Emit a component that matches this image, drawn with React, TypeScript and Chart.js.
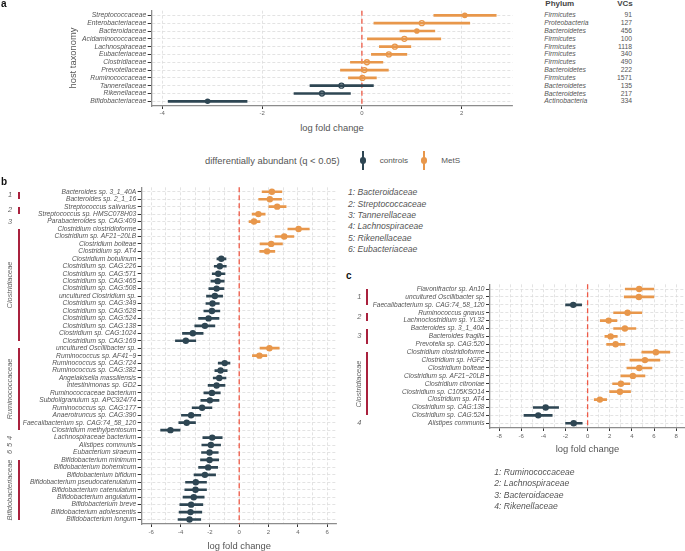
import React, { useEffect, useRef } from "react";
import { Chart, registerables } from "chart.js";

Chart.register(...registerables);

const FONT = "'Liberation Sans', Arial, Helvetica, sans-serif";
const ORANGE = "#e8974b";
const DARK = "#2e4653";
const ZERO_RED = "#ef5a47";
const BRACKET = "#a9213d";
const GRID = "#dcdcdc";
const AXIS = "#8c8c8c";
const TICK = "#333333";
const LABEL = "#555555";

// ---------- Panel a ----------
const aFamilies = ["Streptococcaceae", "Enterobacteriaceae", "Bacteroidaceae", "Acidaminococcaceae", "Lachnospiraceae", "Eubacteriaceae", "Clostridiaceae", "Prevotellaceae", "Ruminococcaceae", "Tannerellaceae", "Rikenellaceae", "Bifidobacteriaceae"];
const aLogFC = [2.06, 1.2, 1.1, 0.85, 0.66, 0.54, 0.1, 0.05, 0.01, -0.41, -0.8, -3.09];
const aLow = [1.44, 0.24, 0.76, 0.11, 0.35, 0.19, -0.23, -0.43, -0.27, -1.04, -1.36, -3.88];
const aHigh = [2.69, 2.16, 1.46, 1.58, 0.98, 0.9, 0.42, 0.53, 0.29, 0.23, -0.23, -2.3];
const aSignificant = [true, false, true, false, false, false, false, false, false, false, false, true];
const aPhylum = ["Firmicutes", "Proteobacteria", "Bacteroidetes", "Firmicutes", "Firmicutes", "Firmicutes", "Firmicutes", "Bacteroidetes", "Firmicutes", "Bacteroidetes", "Bacteroidetes", "Actinobacteria"];
const aVCs = [91, 127, 456, 100, 1118, 340, 490, 222, 1571, 135, 217, 334];
const aTicks = [-4, -2, 0, 2];

// ---------- Panel b ----------
const bTaxa = [
  "Bacteroides sp. 3_1_40A", "Bacteroides sp. 2_1_16", "Streptococcus salivarius", "Streptococcus sp. HMSC078H03", "Parabacteroides sp. CAG:409",
  "Clostridium clostridioforme", "Clostridium sp. AF21−20LB", "Clostridium bolteae", "Clostridium sp. AT4", "Clostridium botulinum",
  "Clostridium sp. CAG:226", "Clostridium sp. CAG:571", "Clostridium sp. CAG:465", "Clostridium sp. CAG:508", "uncultured Clostridium sp.",
  "Clostridium sp. CAG:349", "Clostridium sp. CAG:628", "Clostridium sp. CAG:524", "Clostridium sp. CAG:138", "Clostridium sp. CAG:1024",
  "Clostridium sp. CAG:169", "uncultured Oscillibacter sp.", "Ruminococcus sp. AF41−9", "Ruminococcus sp. CAG:724", "Ruminococcus sp. CAG:382",
  "Angelakisella massiliensis", "Intestinimonas sp. GD2", "Ruminococcaceae bacterium", "Subdoligranulum sp. APC924/74", "Ruminococcus sp. CAG:177",
  "Anaerotruncus sp. CAG:390", "Faecalibacterium sp. CAG:74_58_120", "Clostridium methylpentosum", "Lachnospiraceae bacterium", "Alistipes communis",
  "Eubacterium siraeum", "Bifidobacterium minimum", "Bifidobacterium bohemicum", "Bifidobacterium bifidum", "Bifidobacterium pseudocatenulatum",
  "Bifidobacterium catenulatum", "Bifidobacterium angulatum", "Bifidobacterium breve", "Bifidobacterium adolescentis", "Bifidobacterium longum",
];
const bLogFC = [2.23, 2.09, 2.59, 1.31, 1.01, 4.05, 3.07, 2.18, 1.9, -1.22, -1.32, -1.43, -1.47, -1.54, -1.66, -1.82, -1.86, -2.09, -2.34, -3.16, -3.64, 2.06, 1.38, -0.99, -1.27, -1.36, -1.54, -1.86, -2.0, -2.53, -3.28, -3.58, -4.69, -1.84, -1.93, -2.02, -2.02, -2.12, -2.34, -2.96, -2.98, -3.1, -3.28, -3.32, -3.39];
const bLow = [1.56, 1.33, 2.02, 0.88, 0.67, 3.32, 2.45, 1.42, 1.4, -1.52, -1.7, -1.84, -1.93, -2.07, -2.23, -2.27, -2.41, -2.77, -3.03, -3.87, -4.35, 1.42, 0.9, -1.43, -1.66, -1.77, -2.12, -2.41, -2.62, -3.21, -3.94, -4.12, -5.36, -2.48, -2.55, -2.57, -2.64, -2.77, -3.08, -3.66, -3.71, -3.83, -4.05, -4.1, -4.17];
const bHigh = [2.91, 2.89, 3.2, 1.77, 1.42, 4.78, 3.73, 2.95, 2.43, -0.9, -0.88, -0.97, -1.02, -1.04, -1.13, -1.36, -1.32, -1.38, -1.66, -2.46, -2.96, 2.73, 1.88, -0.63, -0.82, -0.9, -0.97, -1.29, -1.38, -1.86, -2.62, -2.98, -4.03, -1.16, -1.27, -1.43, -1.4, -1.47, -1.61, -2.23, -2.23, -2.39, -2.48, -2.55, -2.62];
const bGroupNames = ["1", "2", "3", "Clostridiaceae", "Ruminococcaceae", "4", "5", "6", "Bifidobacteriaceae"];
const bGroupFirst = [1, 3, 5, 6, 22, 34, 35, 36, 37];
const bGroupLast = [2, 4, 5, 21, 33, 34, 35, 36, 45];
const bGroupRotated = [false, false, false, true, true, true, true, true, true];
const bKey = ["1: Bacteroidaceae", "2: Streptococcaceae", "3: Tannerellaceae", "4: Lachnospiraceae", "5: Rikenellaceae", "6: Eubacteriaceae"];
const bTicks = [-6, -4, -2, 0, 2, 4, 6];
const bGridVals = [-6, -5, -4, -3, -2, -1, 0, 1, 2, 3, 4, 5, 6];

// ---------- Panel c ----------
const cTaxa = [
  "Flavonifractor sp. An10", "uncultured Oscillibacter sp.", "Faecalibacterium sp. CAG:74_58_120", "Ruminococcus gnavus", "Lachnoclostridium sp. YL32",
  "Bacteroides sp. 3_1_40A", "Bacteroides fragilis", "Prevotella sp. CAG:520", "Clostridium clostridioforme", "Clostridium sp. HGF2",
  "Clostridium bolteae", "Clostridium sp. AF21−20LB", "Clostridium citroniae", "Clostridium sp. C105KSO14", "Clostridium sp. AT4",
  "Clostridium sp. CAG:138", "Clostridium sp. CAG:524", "Alistipes communis",
];
const cLogFC = [4.66, 4.63, -1.3, 3.61, 1.9, 3.37, 2.08, 2.53, 6.17, 5.18, 4.66, 4.09, 3.01, 2.92, 1.11, -3.79, -4.46, -1.26];
const cLow = [3.4, 3.31, -1.99, 2.35, 1.14, 2.35, 1.56, 1.72, 4.9, 3.82, 3.55, 3.01, 2.26, 1.99, 0.6, -4.91, -5.75, -1.99];
const cHigh = [5.99, 5.99, -0.54, 4.9, 2.65, 4.36, 2.68, 3.37, 7.43, 6.53, 5.81, 5.18, 3.82, 3.88, 1.72, -2.62, -3.2, -0.49];
const cGroupNames = ["1", "2", "3", "Clostridiaceae", "4"];
const cGroupFirst = [1, 4, 6, 9, 18];
const cGroupLast = [3, 5, 8, 17, 18];
const cGroupRotated = [false, false, false, true, false];
const cKey = ["1: Ruminococcaceae", "2: Lachnospiraceae", "3: Bacteroidaceae", "4: Rikenellaceae"];
const cTicks = [-8, -6, -4, -2, 0, 2, 4, 6, 8];
const cGridVals = [-8, -7, -6, -5, -4, -3, -2, -1, 0, 1, 2, 3, 4, 5, 6, 7, 8];

// ---------- layout (page pixels) ----------
const A = { left: 0, top: 0, width: 540, height: 120, pL: 151.7, pT: 10.7, pR: 512.7, pB: 106, xMin: -4.21, xMax: 3.02 };
const B = { left: 0, top: 180, width: 345, height: 362, pL: 141.7, pT: 187.3, pR: 336.7, pB: 524, xMin: -6.65, xMax: 6.65 };
const C = { left: 360, top: 278, width: 325, height: 170, pL: 490, pT: 284.3, pR: 685, pB: 428, xMin: -8.82, xMax: 8.8 };

const zeroLine = {
  id: "zeroLine",
  beforeDatasetsDraw(chart: any) {
    const { ctx, chartArea, scales } = chart;
    const x = scales.x.getPixelForValue(0);
    ctx.save();
    ctx.strokeStyle = ZERO_RED;
    ctx.lineWidth = 1.3;
    ctx.setLineDash([5, 3]);
    ctx.beginPath();
    ctx.moveTo(x, chartArea.top);
    ctx.lineTo(x, chartArea.bottom);
    ctx.stroke();
    ctx.restore();
  },
};

function rowY(box: any, n: number, i: number) {
  return box.pT + ((i + 0.6) * (box.pB - box.pT)) / (n + 0.2);
}

function makeForest(canvas: HTMLCanvasElement, box: any, labels: string[], est: number[], low: number[], high: number[], filled: boolean[], gridVals: number[], tickVals: number[], opt: any) {
  const n = labels.length;
  const colors = est.map((v) => (v > 0 ? ORANGE : DARK));
  return new Chart(canvas, {
    type: "scatter",
    data: {
      datasets: [
        {
          type: "bar",
          indexAxis: "y",
          data: labels.map((_, i) => ({ y: i + 1, x: [low[i], high[i]] })),
          backgroundColor: colors,
          borderWidth: 0,
          barThickness: 2,
          order: 2,
        } as any,
        {
          type: "scatter",
          data: labels.map((_, i) => ({ x: est[i], y: i + 1 })),
          pointRadius: filled.map((f) => (f ? opt.rFilled : opt.rOpen)),
          pointBackgroundColor: colors.map((c, i) => (filled[i] ? c : "rgba(0,0,0,0)")),
          pointBorderColor: colors,
          pointBorderWidth: filled.map((f) => (f ? 0 : 1.3)),
          order: 1,
        } as any,
      ],
    },
    options: {
      animation: false,
      responsive: false,
      devicePixelRatio: 1,
      events: [],
      layout: {
        autoPadding: false,
        padding: { left: 0, top: box.pT - box.top, right: box.left + box.width - box.pR, bottom: 0 },
      },
      plugins: { legend: { display: false }, tooltip: { enabled: false } },
      scales: {
        x: {
          type: "linear",
          min: box.xMin,
          max: box.xMax,
          offset: false,
          afterFit: (s: any) => {
            s.height = box.top + box.height - box.pB;
          },
          afterBuildTicks: (s: any) => {
            s.ticks = gridVals.map((v) => ({ value: v }));
          },
          grid: {
            offset: false,
            color: GRID,
            lineWidth: 0.8,
            tickLength: 3,
            tickWidth: 1,
            tickColor: (ctx: any) => (ctx.tick && tickVals.includes(ctx.tick.value) ? TICK : "rgba(0,0,0,0)"),
          },
          border: { color: AXIS, width: 1.3, dash: [3, 2] },
          ticks: {
            autoSkip: false,
            maxRotation: 0,
            minRotation: 0,
            padding: opt.xPad,
            color: "#666666",
            font: { family: FONT, size: 6 },
            callback: (v: any) => (tickVals.includes(v) ? String(v) : ""),
          },
        },
        y: {
          type: "linear",
          min: 0.4,
          max: n + 0.6,
          reverse: true,
          offset: false,
          afterFit: (s: any) => {
            s.width = box.pL - box.left;
          },
          afterBuildTicks: (s: any) => {
            s.ticks = labels.map((_, i) => ({ value: i + 1 }));
          },
          grid: { offset: false, color: GRID, lineWidth: 0.8, tickLength: 4, tickWidth: 1, tickColor: TICK },
          border: { color: AXIS, width: 1.3, dash: [3, 2] },
          ticks: {
            autoSkip: false,
            padding: 1.5,
            color: LABEL,
            font: { family: FONT, size: opt.ySize, style: "italic" },
            callback: (v: any) => labels[Math.round(v) - 1] ?? "",
          },
        },
      },
    } as any,
    plugins: [zeroLine],
  });
}

function Txt(p: { x: number; y: number; text: string; size: number; align?: string; italic?: boolean; bold?: boolean; color?: string; rotate?: boolean }) {
  const tx = p.align === "right" ? "-100%" : p.align === "center" ? "-50%" : "0";
  return (
    <div
      style={{
        position: "absolute",
        left: p.x,
        top: p.y,
        transform: p.rotate ? "translate(-50%,-50%) rotate(-90deg)" : `translate(${tx},-50%)`,
        fontFamily: FONT,
        fontSize: p.size,
        fontStyle: p.italic ? "italic" : "normal",
        fontWeight: p.bold ? 700 : 400,
        color: p.color ?? LABEL,
        whiteSpace: "nowrap",
        lineHeight: 1,
      }}
    >
      {p.text}
    </div>
  );
}

function Groups(props: { box: any; n: number; names: string[]; first: number[]; last: number[]; rotated: boolean[]; textX: number; barX: number }) {
  const { box, n } = props;
  const out: any[] = [];
  props.names.forEach((name, g) => {
    const y1 = rowY(box, n, props.first[g] - 1);
    const y2 = rowY(box, n, props.last[g] - 1);
    if (props.last[g] > props.first[g]) {
      out.push(<div key={"bar" + g} style={{ position: "absolute", left: props.barX - 1, top: y1, width: 2, height: y2 - y1, background: BRACKET }} />);
    }
    out.push(<Txt key={"t" + g} x={props.textX} y={(y1 + y2) / 2} text={name} size={7.4} italic rotate={props.rotated[g]} align="center" color="#666666" />);
  });
  return <>{out}</>;
}

function LegendGlyph({ x, y, color }: { x: number; y: number; color: string }) {
  return (
    <>
      <div style={{ position: "absolute", left: x - 1, top: y - 9.5, width: 2, height: 19, background: color }} />
      <div style={{ position: "absolute", left: x - 3.3, top: y - 3.3, width: 6.6, height: 6.6, borderRadius: "50%", background: color }} />
    </>
  );
}

export default function App() {
  const refA = useRef<HTMLCanvasElement>(null);
  const refB = useRef<HTMLCanvasElement>(null);
  const refC = useRef<HTMLCanvasElement>(null);

  useEffect(() => {
    Chart.defaults.font.family = FONT;
    const charts = [
      makeForest(refA.current!, A, aFamilies, aLogFC, aLow, aHigh, aSignificant, aTicks, aTicks, { rFilled: 2.8, rOpen: 2.5, ySize: 6.8, xPad: 1 }),
      makeForest(refB.current!, B, bTaxa, bLogFC, bLow, bHigh, bTaxa.map(() => true), bGridVals, bTicks, { rFilled: 3.2, rOpen: 2.8, ySize: 6.7, xPad: 2 }),
      makeForest(refC.current!, C, cTaxa, cLogFC, cLow, cHigh, cTaxa.map(() => true), cGridVals, cTicks, { rFilled: 3.2, rOpen: 2.8, ySize: 6.6, xPad: 2 }),
    ];
    return () => charts.forEach((c) => c.destroy());
  }, []);

  const canvasStyle = (b: any) => ({ position: "absolute" as const, left: b.left, top: b.top, width: b.width, height: b.height });

  return (
    <div style={{ position: "absolute", left: 0, top: 0, width: 685, height: 551, background: "#ffffff", overflow: "hidden" }}>
      <canvas ref={refA} width={A.width} height={A.height} style={canvasStyle(A)} />
      <canvas ref={refB} width={B.width} height={B.height} style={canvasStyle(B)} />
      <canvas ref={refC} width={C.width} height={C.height} style={canvasStyle(C)} />

      {/* panel labels */}
      <Txt x={1} y={4} text="a" size={10} bold color="#111111" />
      <Txt x={1} y={182} text="b" size={10} bold color="#111111" />
      <Txt x={346} y={276} text="c" size={10} bold color="#111111" />

      {/* panel a texts */}
      <Txt x={73.3} y={58} text="host taxonomy" size={9.4} rotate color="#555555" />
      <Txt x={332} y={127.7} text="log fold change" size={9.4} align="center" color="#555555" />
      <Txt x={205} y={161.3} text="differentially abundant (q < 0.05)" size={9.4} color="#555555" />
      <LegendGlyph x={363} y={160.5} color={DARK} />
      <Txt x={379.7} y={161.3} text="controls" size={8.1} color="#555555" />
      <LegendGlyph x={424} y={160.5} color={ORANGE} />
      <Txt x={441.3} y={161.3} text="MetS" size={8.1} color="#555555" />
      <Txt x={545.3} y={4} text="Phylum" size={8} bold color="#444444" />
      <Txt x={632.7} y={4} text="VCs" size={8} bold align="right" color="#444444" />
      {aPhylum.map((p, i) => (
        <Txt key={"ph" + i} x={544.3} y={rowY(A, aPhylum.length, i)} text={p} size={6.8} italic />
      ))}
      {aVCs.map((v, i) => (
        <Txt key={"vc" + i} x={632} y={rowY(A, aVCs.length, i)} text={String(v)} size={6.8} align="right" />
      ))}

      {/* panel b texts */}
      <Groups box={B} n={bTaxa.length} names={bGroupNames} first={bGroupFirst} last={bGroupLast} rotated={bGroupRotated} textX={10} barX={19} />
      <Txt x={239.2} y={545.5} text="log fold change" size={9.4} align="center" color="#555555" />
      {bKey.map((k, i) => (
        <Txt key={"bk" + i} x={348} y={192.3 + i * 11.35} text={k} size={8.6} italic />
      ))}

      {/* panel c texts */}
      <Groups box={C} n={cTaxa.length} names={cGroupNames} first={cGroupFirst} last={cGroupLast} rotated={cGroupRotated} textX={359.3} barX={366.7} />
      <Txt x={587.5} y={449} text="log fold change" size={9.4} align="center" color="#555555" />
      {cKey.map((k, i) => (
        <Txt key={"ck" + i} x={494.3} y={471.7 + i * 11.45} text={k} size={8.6} italic />
      ))}
    </div>
  );
}
